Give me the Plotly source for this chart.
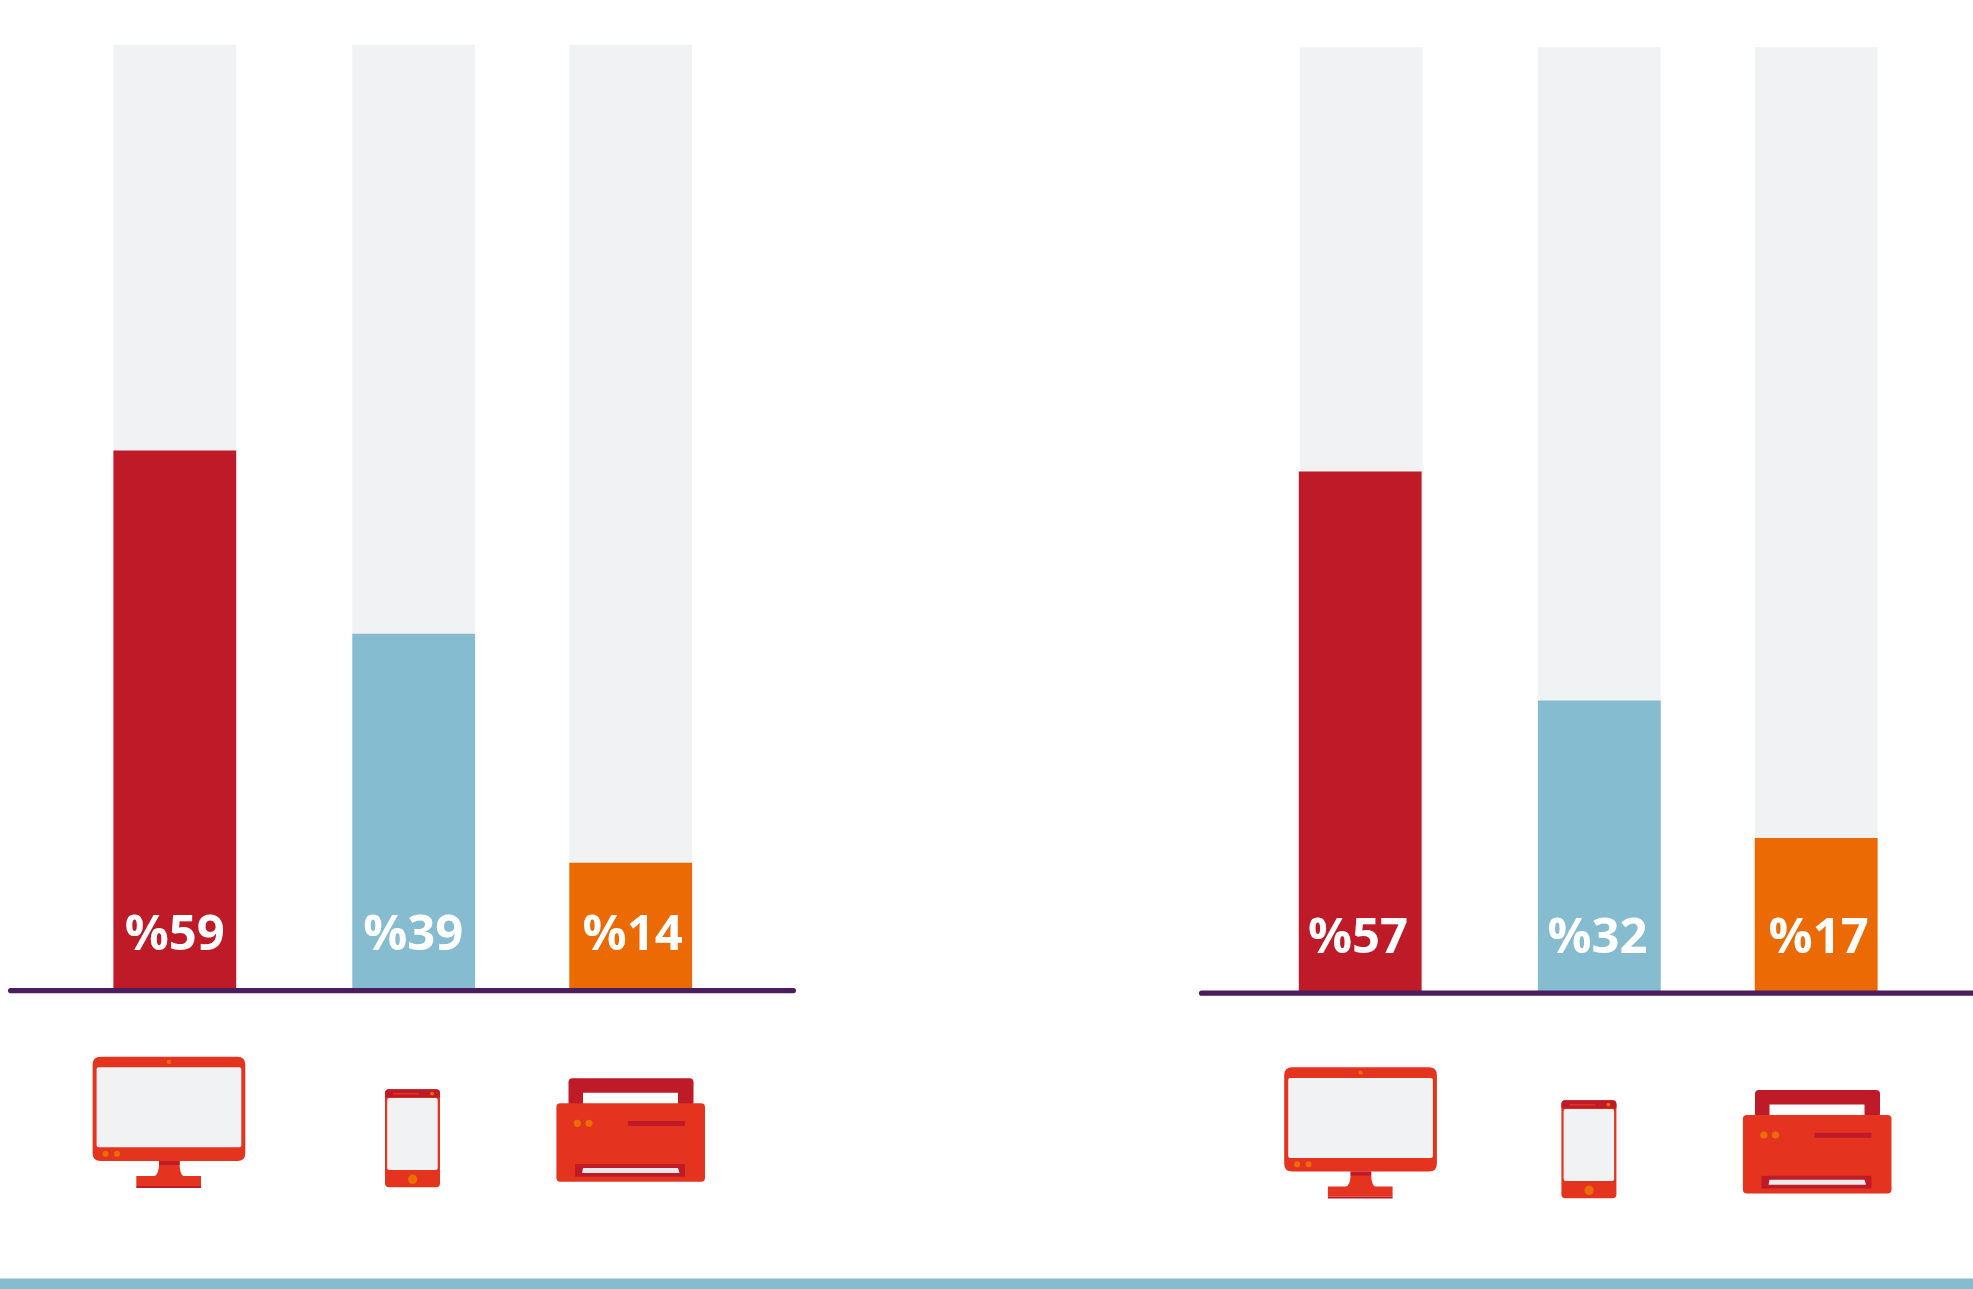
import plotly.graph_objects as go

# ---------- data ----------
devices = ["Desktop", "Mobile", "Printer"]
left_values = [59, 39, 14]
right_values = [57, 32, 17]
track_total = 103.3

left_centers = [174.8, 413.7, 630.7]
right_centers = [1360.2, 1599.3, 1816.2]
right_track_centers = [1361.2, 1599.3, 1816.2]
left_label_centers = [174.8, 413.3, 632.7]
right_label_centers = [1358.0, 1597.5, 1818.6]

# ---------- style ----------
W, H = 1973, 1289
BAR_W = 122.8
PX_PER_UNIT = 9.16
LEFT_BASE, RIGHT_BASE = 991.0, 993.6
RED, BLUE, ORANGE = "#BE1A27", "#85BCD0", "#EB6A03"
TRACK = "#F1F2F4"
ICON = "#E43420"
DOT = "#E86E05"
PURPLE = "#4A1E5C"
bar_colors = [RED, BLUE, ORANGE]

fig = go.Figure()


def add_group(centers, track_centers, label_centers, values, yaxis, text_center):
    fig.add_trace(go.Bar(x=track_centers, y=[track_total] * 3, width=BAR_W,
                         marker=dict(color=TRACK, line_width=0), yaxis=yaxis,
                         hoverinfo="skip"))
    fig.add_trace(go.Bar(x=centers, y=values, width=BAR_W, customdata=devices,
                         marker=dict(color=bar_colors, line_width=0), yaxis=yaxis))
    fig.add_trace(go.Scatter(x=label_centers, y=[text_center] * 3, mode="text", yaxis=yaxis,
                             text=[f"%{v}" for v in values],
                             textposition="middle center",
                             textfont=dict(family="Open Sans", size=49, color="white", weight=700),
                             hoverinfo="skip"))


add_group(left_centers, left_centers, left_label_centers, left_values, "y", 5.8)
add_group(right_centers, right_track_centers, right_label_centers, right_values, "y2", 5.8)


def yrange(base):
    return [-(H - base) / PX_PER_UNIT, base / PX_PER_UNIT]


fig.update_layout(
    width=W, height=H, margin=dict(l=0, r=0, t=0, b=0, pad=0),
    paper_bgcolor="white", plot_bgcolor="white",
    barmode="overlay", showlegend=False,
    xaxis=dict(range=[0, W], domain=[0, 1], visible=False, fixedrange=True),
    yaxis=dict(range=yrange(LEFT_BASE), domain=[0, 1], visible=False, fixedrange=True),
    yaxis2=dict(range=yrange(RIGHT_BASE), domain=[0, 1], visible=False, fixedrange=True,
                overlaying="y"),
    yaxis3=dict(range=[H, 0], domain=[0, 1], visible=False, fixedrange=True, overlaying="y"),
)
# keep the pixel axis alive for decorations
fig.add_trace(go.Scatter(x=[0], y=[0], yaxis="y3", mode="markers",
                         marker=dict(opacity=0), hoverinfo="skip"))

shapes = []


def add_path(p, fill):
    shapes.append(dict(type="path", path=p, xref="x", yref="y3", fillcolor=fill,
                       line=dict(width=0), layer="above"))


def rrect(x0, y0, x1, y1, r, fill):
    if r:
        p = (f"M{x0+r},{y0} L{x1-r},{y0} Q{x1},{y0} {x1},{y0+r} L{x1},{y1-r} Q{x1},{y1} {x1-r},{y1} "
             f"L{x0+r},{y1} Q{x0},{y1} {x0},{y1-r} L{x0},{y0+r} Q{x0},{y0} {x0+r},{y0} Z")
    else:
        p = f"M{x0},{y0} L{x1},{y0} L{x1},{y1} L{x0},{y1} Z"
    add_path(p, fill)


def ell(cx, cy, rx, ry, fill):
    shapes.append(dict(type="circle", x0=cx - rx, x1=cx + rx, y0=cy - ry, y1=cy + ry,
                       xref="x", yref="y3", fillcolor=fill, line=dict(width=0), layer="above"))


def monitor(dx, dy):
    rrect(92.6 + dx, 1056.7 + dy, 245.3 + dx, 1161 + dy, 8, ICON)
    rrect(96.6 + dx, 1067.3 + dy, 241.3 + dx, 1147.3 + dy, 2, TRACK)
    ell(169 + dx, 1062 + dy, 2.2, 2.2, DOT)
    ell(105.5 + dx, 1153.7 + dy, 3.0, 3.0, DOT)
    ell(117 + dx, 1153.7 + dy, 3.0, 3.0, DOT)
    stem = (f"M{159+dx},{1161+dy} L{179.6+dx},{1161+dy} L{179.6+dx},{1165+dy} "
            f"Q{180+dx},{1175+dy} {184+dx},{1176.5+dy} "
            f"L{154+dx},{1176.5+dy} Q{158.5+dx},{1175+dy} {159+dx},{1165+dy} Z")
    add_path(stem, ICON)
    rrect(159 + dx, 1161 + dy, 179.6 + dx, 1165 + dy, 0, RED)
    rrect(136.3 + dx, 1176 + dy, 201 + dx, 1186 + dy, 0, ICON)
    rrect(136.3 + dx, 1186 + dy, 201 + dx, 1188 + dy, 0, RED)


def phone(dx, dy):
    rrect(385 + dx, 1089.3 + dy, 440 + dx, 1187.3 + dy, 4, ICON)
    p = (f"M{389+dx},{1089.3+dy} L{436+dx},{1089.3+dy} Q{440+dx},{1089.3+dy} {440+dx},{1093.3+dy} "
         f"L{440+dx},{1097.3+dy} L{385+dx},{1097.3+dy} L{385+dx},{1093.3+dy} "
         f"Q{385+dx},{1089.3+dy} {389+dx},{1089.3+dy} Z")
    add_path(p, RED)
    rrect(387.2 + dx, 1098 + dy, 437.7 + dx, 1170 + dy, 2, TRACK)
    rrect(393 + dx, 1093 + dy, 419 + dx, 1094.5 + dy, 0, ICON)
    ell(432 + dx, 1093.7 + dy, 1.9, 1.9, DOT)
    ell(412.7 + dx, 1179.3 + dy, 4.6, 4.8, DOT)


def printer(dx, dy):
    rrect(568.5 + dx, 1078.3 + dy, 693.5 + dx, 1106 + dy, 4, RED)
    rrect(583 + dx, 1092.7 + dy, 678 + dx, 1106 + dy, 0, "white")
    rrect(556.4 + dx, 1103.3 + dy, 705 + dx, 1181.7 + dy, 4, ICON)
    ell(577.4 + dx, 1123.3 + dy, 3.6, 3.6, DOT)
    ell(589 + dx, 1123.3 + dy, 3.6, 3.6, DOT)
    rrect(628 + dx, 1121 + dy, 685 + dx, 1126 + dy, 0, RED)
    rrect(575 + dx, 1164 + dy, 685 + dx, 1176.7 + dy, 0, RED)
    add_path(f"M{583+dx},{1168+dy} L{678+dx},{1168+dy} L{679.5+dx},{1173+dy} L{582+dx},{1173+dy} Z",
             "#E8E9EB")


monitor(0, 0)
phone(0, 0)
printer(0, 0)
monitor(1191.6, 10.6)
phone(1176.4, 11)
printer(1186.5, 11.7)

# baselines
rrect(8, 988, 796, 993.2, 2.6, PURPLE)
rrect(1199, 990.6, 1985, 995.8, 2.6, PURPLE)
# bottom strip
rrect(0, 1278.6, W, H, 0, BLUE)

fig.update_layout(shapes=shapes)
fig.write_html("out.html", include_plotlyjs=True, config={"displayModeBar": False},
               post_script="document.body.style.margin='0';document.body.style.overflow='hidden';")
